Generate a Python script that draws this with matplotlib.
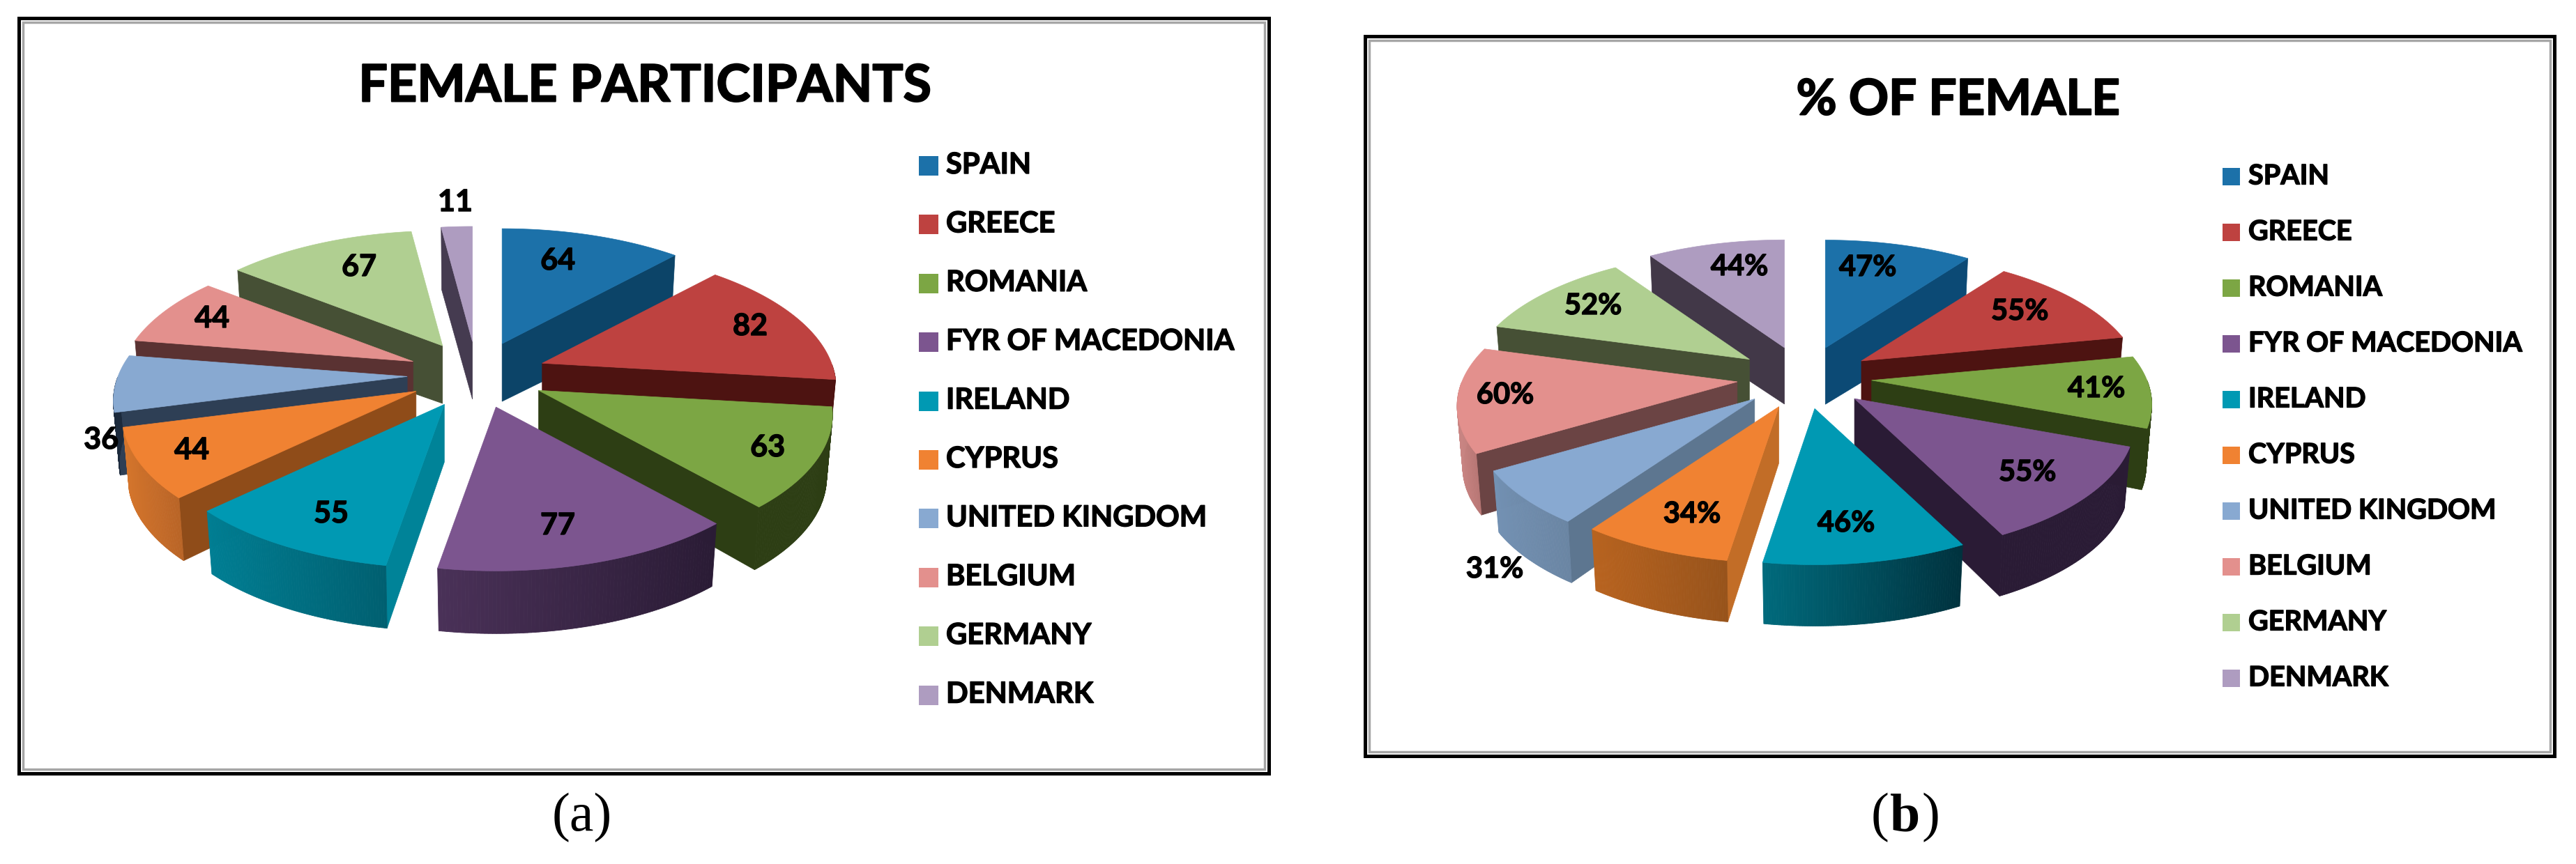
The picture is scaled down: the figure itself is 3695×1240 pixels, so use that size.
import numpy as np
import matplotlib
matplotlib.use('Agg')
import matplotlib.pyplot as plt
import matplotlib.patheffects as pe
from matplotlib.patches import Polygon, Rectangle

countries = ['SPAIN', 'GREECE', 'ROMANIA', 'FYR OF MACEDONIA', 'IRELAND', 'CYPRUS',
             'UNITED KINGDOM', 'BELGIUM', 'GERMANY', 'DENMARK']
participants = [64, 82, 63, 77, 55, 44, 36, 44, 67, 11]
percent_female = [47, 55, 41, 55, 46, 34, 31, 60, 52, 44]

top_colors = ['#1c71a9', '#be4240', '#7ca644', '#7c558f', '#0099b3',
              '#f08232', '#88a9d1', '#e3908d', '#b0cf91', '#ae9cc0']

# radial wall colour, outer wall colour on the left, on the right
walls_a = [('#0c4468', '#0c4468', '#0c4468'), ('#4d1311', '#4d1311', '#4d1311'),
           ('#2d3e14', '#2d3e14', '#2d3e14'), ('#2d1f38', '#4a3158', '#2a1b35'),
           ('#008398', '#007e93', '#005f70'), ('#8f4c19', '#d4752c', '#b96426'),
           ('#2e3f55', '#1c2a3c', '#1c2a3c'), ('#5a3232', '#5a3232', '#5a3232'),
           ('#465035', '#465035', '#465035'), ('#453b50', '#453b50', '#453b50')]
walls_b = [('#0c4a75', '#0c4a75', '#0c4a75'), ('#4d1311', '#4d1311', '#4d1311'),
           ('#2d3e14', '#2d3e14', '#2d3e14'), ('#2a1b35', '#2a1b35', '#2a1b35'),
           ('#007e93', '#006a7c', '#00323e'), ('#c26d27', '#b8631f', '#97531b'),
           ('#5d7690', '#7391b3', '#6a85a3'), ('#6b4444', '#c98583', '#b87674'),
           ('#465035', '#465035', '#465035'), ('#423848', '#423848', '#423848')]

labels_a = ['64', '82', '63', '77', '55', '44', '36', '44', '67', '11']
labels_b = ['47%', '55%', '41%', '55%', '46%', '34%', '31%', '60%', '52%', '44%']
label_pos_a = [(800, 374), (1076, 468), (1101, 642), (800, 754), (475, 737),
               (275, 646), (145, 631), (304, 457), (515, 383), (653, 290)]
label_pos_b = [(2679, 384), (2897, 447), (3007, 558), (2908, 678), (2648, 751),
               (2427, 738), (2144, 817), (2159, 567), (2285, 439), (2495, 383)]

W, H = 3695, 1240
FONT = 'Lato'

fig = plt.figure(figsize=(W / 100, H / 100), dpi=100)
ax = fig.add_axes([0, 0, 1, 1])
ax.set_xlim(0, W)
ax.set_ylim(H, 0)
ax.axis('off')


def heavy(w):
    # Lato bold is lighter than the font of the picture
    return [pe.withStroke(linewidth=w, foreground='black')]


def mix(c1, c2, t):
    a = np.array(matplotlib.colors.to_rgb(c1))
    b = np.array(matplotlib.colors.to_rgb(c2))
    return a + (b - a) * t


def project(ang, tip, rx, ry, k):
    # angle is clockwise from north, the near side of the pie comes out bigger
    X = np.sin(np.radians(ang))
    Y = np.cos(np.radians(ang))
    p = 1 / (1 + k * Y)
    return tip[0] + rx * X * p, tip[1] - ry * Y * p


def lower(x, y, tip, depth):
    # same point at the bottom of the slab
    return tip[0] + (x - tip[0]) * 0.98, y + depth


def draw_pie(values, walls, cx, cy, rx, ry, k, ex, ey, depth):
    vals = np.array(values, dtype=float)
    ends = np.cumsum(vals) / vals.sum() * 360
    starts = ends - vals / vals.sum() * 360
    mids = (starts + ends) / 2
    order = np.argsort(-np.cos(np.radians(mids)))
    z = 5
    for i in order:
        a, b, m = starts[i], ends[i], mids[i]
        tip = (cx + ex * np.sin(np.radians(m)), cy - ey * np.cos(np.radians(m)))
        radial, arc_l, arc_r = walls[i]
        angs = np.linspace(a, b, 80)
        xs, ys = project(angs, tip, rx, ry, k)
        # radial walls, only the ones that face the viewer
        if a >= 180:
            x0, y0 = project(a, tip, rx, ry, k)
            x1, y1 = lower(x0, y0, tip, depth)
            x2, y2 = lower(tip[0], tip[1], tip, depth * 0.92)
            ax.add_patch(Polygon([tip, (x0, y0), (x1, y1), (x2, y2)], fc=radial, ec=radial, lw=0.5, zorder=z))
            z += 1
        if b <= 180:
            x0, y0 = project(b, tip, rx, ry, k)
            x1, y1 = lower(x0, y0, tip, depth)
            x2, y2 = lower(tip[0], tip[1], tip, depth * 0.92)
            ax.add_patch(Polygon([tip, (x0, y0), (x1, y1), (x2, y2)], fc=radial, ec=radial, lw=0.5, zorder=z))
            z += 1
        # outer wall as thin strips so the shading can run across it
        vis = (angs >= 90) & (angs <= 270)
        if vis.sum() > 1:
            xv, yv = project(angs[vis], tip, rx, ry, k)
            xmin, xmax = xv.min(), xv.max()
            for j in range(len(xv) - 1):
                t = ((xv[j] + xv[j + 1]) / 2 - xmin) / max(xmax - xmin, 1)
                col = mix(arc_l, arc_r, t)
                bx0, by0 = lower(xv[j], yv[j], tip, depth)
                bx1, by1 = lower(xv[j + 1], yv[j + 1], tip, depth)
                ax.add_patch(Polygon([(xv[j], yv[j]), (xv[j + 1], yv[j + 1]), (bx1, by1), (bx0, by0)],
                                     fc=col, ec=col, lw=0.6, zorder=z))
            z += 1
        pts = [tip] + list(zip(xs, ys))
        ax.add_patch(Polygon(pts, fc=top_colors[i], ec=top_colors[i], lw=0.5, zorder=z))
        z += 1
    return z


def draw_frame(x0, y0, x1, y1):
    ax.add_patch(Rectangle((x0, y0), x1 - x0, y1 - y0, fc='white', ec='black', lw=3.6, zorder=1))
    ax.add_patch(Rectangle((x0 + 6, y0 + 6), x1 - x0 - 12, y1 - y0 - 12, fc='white', ec='#a6a6a6', lw=2.5, zorder=2))


def draw_legend(x, y, dy, sw, tx, size, shift):
    for i, name in enumerate(countries):
        yy = y + i * dy
        ax.add_patch(Rectangle((x, yy - sw / 2), sw, sw, fc=top_colors[i], ec='none', zorder=4))
        ax.text(tx, yy + shift, name, fontsize=size, fontweight='bold', family=FONT,
                ha='left', va='center', color='black', zorder=4, path_effects=heavy(1.0))


def draw_labels(labels, pos, size):
    for t, (x, y) in zip(labels, pos):
        ax.text(x, y, t, fontsize=size, fontweight='bold', family=FONT,
                ha='center', va='center', color='black', zorder=100, path_effects=heavy(1.0))


# (a)
draw_frame(27, 26, 1820, 1110)
ax.text(925, 124, 'FEMALE PARTICIPANTS', fontsize=53, fontweight='bold', family=FONT,
        ha='center', va='center', zorder=4, path_effects=heavy(1.5))
draw_pie(participants, walls_a, 684, 538, 415, 194, 0.175, 100, 48, 90)
draw_labels(labels_a, label_pos_a, 31)
draw_legend(1318, 238, 84.4, 28, 1357, 30, -1)
ax.text(835, 1174, '(a)', fontsize=56, family='Liberation Serif', ha='center', va='center')

# (b)
draw_frame(1958, 52, 3664, 1085)
ax.text(2809, 144, '% OF FEMALE', fontsize=51, fontweight='bold', family=FONT,
        ha='center', va='center', zorder=4, path_effects=heavy(1.5))
draw_pie(percent_female, walls_b, 2588, 542, 395, 183, 0.183, 97, 45, 88)
draw_labels(labels_b, label_pos_b, 30)
draw_legend(3188, 253, 80, 25, 3225, 28.5, 0)
ax.text(2709, 1174, '(', fontsize=56, family='Liberation Serif', ha='right', va='center')
ax.text(2711, 1174, 'b', fontsize=56, family='Liberation Serif', fontweight='bold', ha='left', va='center')
ax.text(2756, 1174, ')', fontsize=56, family='Liberation Serif', ha='left', va='center')

fig.savefig('out.png', dpi=100, facecolor='white')
